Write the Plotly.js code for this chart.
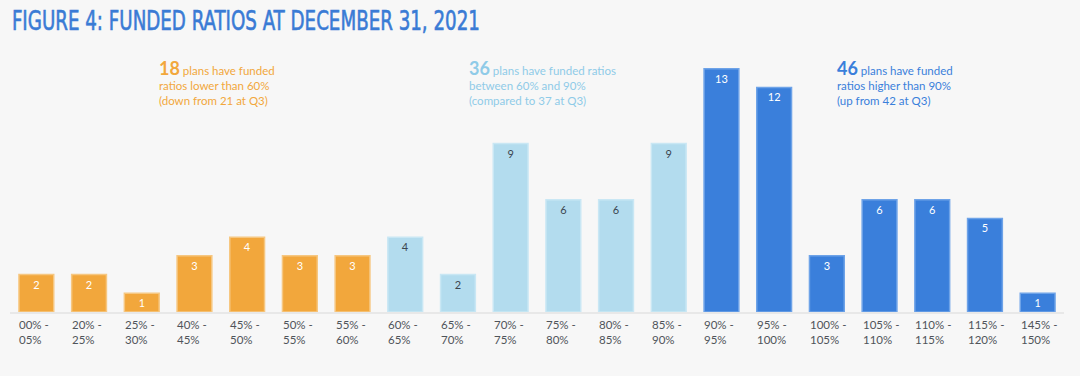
<!DOCTYPE html>
<html>
<head>
<meta charset="utf-8">
<script src="https://cdn.plot.ly/plotly-3.0.1.min.js"></script>
<style>html,body{margin:0;padding:0;background:#f7f7f7;}#chart{width:1080px;height:376px;}</style>
</head>
<body>
<div id="chart"></div>
<script>
const categories = ["00% -<br>05%","20% -<br>25%","25% -<br>30%","40% -<br>45%","45% -<br>50%","50% -<br>55%","55% -<br>60%","60% -<br>65%","65% -<br>70%","70% -<br>75%","75% -<br>80%","80% -<br>85%","85% -<br>90%","90% -<br>95%","95% -<br>100%","100% -<br>105%","105% -<br>110%","110% -<br>115%","115% -<br>120%","145% -<br>150%"];
const planCounts = [2,2,1,3,4,3,3,4,2,9,6,6,9,13,12,3,6,6,5,1];
const groups = ["low","low","low","low","low","low","low","mid","mid","mid","mid","mid","mid","high","high","high","high","high","high","high"];

const fill = {low:"#f2a73c", mid:"#b3dcee", high:"#3a7fdb"};
const edge = {low:"#f6c781", mid:"#c9e7f4", high:"#6ea3e8"};
const txt = {low:"#ffffff", mid:"#3c4650", high:"#ffffff"};

const xs = categories.map((c,i)=>i);
const trace = {
  type:"bar",
  x: xs,
  y: planCounts,
  text: planCounts.map(String),
  textposition:"inside",
  insidetextanchor:"end",
  textangle:0,
  insidetextfont:{family:"Lato, 'Open Sans', sans-serif", size:11, color:groups.map(g=>txt[g])},
  marker:{color:groups.map(g=>fill[g]), line:{color:groups.map(g=>edge[g]), width:1.5}},
  hoverinfo:"skip",
  width:0.66
};

const annotations = categories.map((c,i)=>({
  x:i, y:0, xref:"x", yref:"y", text:c, showarrow:false,
  xanchor:"left", yanchor:"top", align:"left", xshift:-19, yshift:-4,
  font:{family:"Lato, 'Open Sans', sans-serif", size:11.5, color:"#4f545a"}
}));

const notes = [
  {x:0.139, color:"#f2a73c", big:"18", rest:"plans have funded<br>ratios lower than 60%<br>(down from 21 at Q3)"},
  {x:0.4335, color:"#8fcbe8", big:"36", rest:"plans have funded ratios<br>between 60% and 90%<br>(compared to 37 at Q3)"},
  {x:0.7827, color:"#3a7fdb", big:"46", rest:"plans have funded<br>ratios higher than 90%<br>(up from 42 at Q3)"}
];
notes.forEach(n=>{
  annotations.push({
    xref:"paper", yref:"paper", x:n.x, y:0.98, xanchor:"left", yanchor:"top", align:"left",
    showarrow:false,
    text:"<span style='font-size:18px;font-weight:bold'>"+n.big+"</span> "+n.rest,
    font:{family:"Lato, 'Open Sans', sans-serif", size:11.5, color:n.color}
  });
});

const layout = {
  width:1080, height:376,
  paper_bgcolor:"#f7f7f7", plot_bgcolor:"#f7f7f7",
  margin:{l:10, r:16, t:50, b:64},
  showlegend:false,
  title:{text:"FIGURE 4: FUNDED RATIOS AT DECEMBER 31, 2021", x:0.011, xanchor:"left", y:0.968, yanchor:"top",
    font:{family:"'DejaVu Sans Condensed', sans-serif", size:26, weight:"normal", color:"#3a7bd5"}},
  xaxis:{range:[-0.5,19.5], showticklabels:false, ticks:"", showgrid:false, zeroline:false,
    showline:true, linecolor:"#e8e8e8", linewidth:1.5, fixedrange:true},
  yaxis:{range:[0,14], visible:false, fixedrange:true},
  annotations:annotations,
  bargap:0.34
};

Plotly.newPlot("chart",[trace],layout,{displayModeBar:false, staticPlot:true}).then(gd=>{
  const t = gd.querySelector(".gtitle");
  if (t) {
    t.setAttribute("textLength","468");
    t.setAttribute("lengthAdjust","spacingAndGlyphs");
    t.setAttribute("stroke","#3a7bd5");
    t.setAttribute("stroke-width","0.6");
  }
});
</script>
</body>
</html>
